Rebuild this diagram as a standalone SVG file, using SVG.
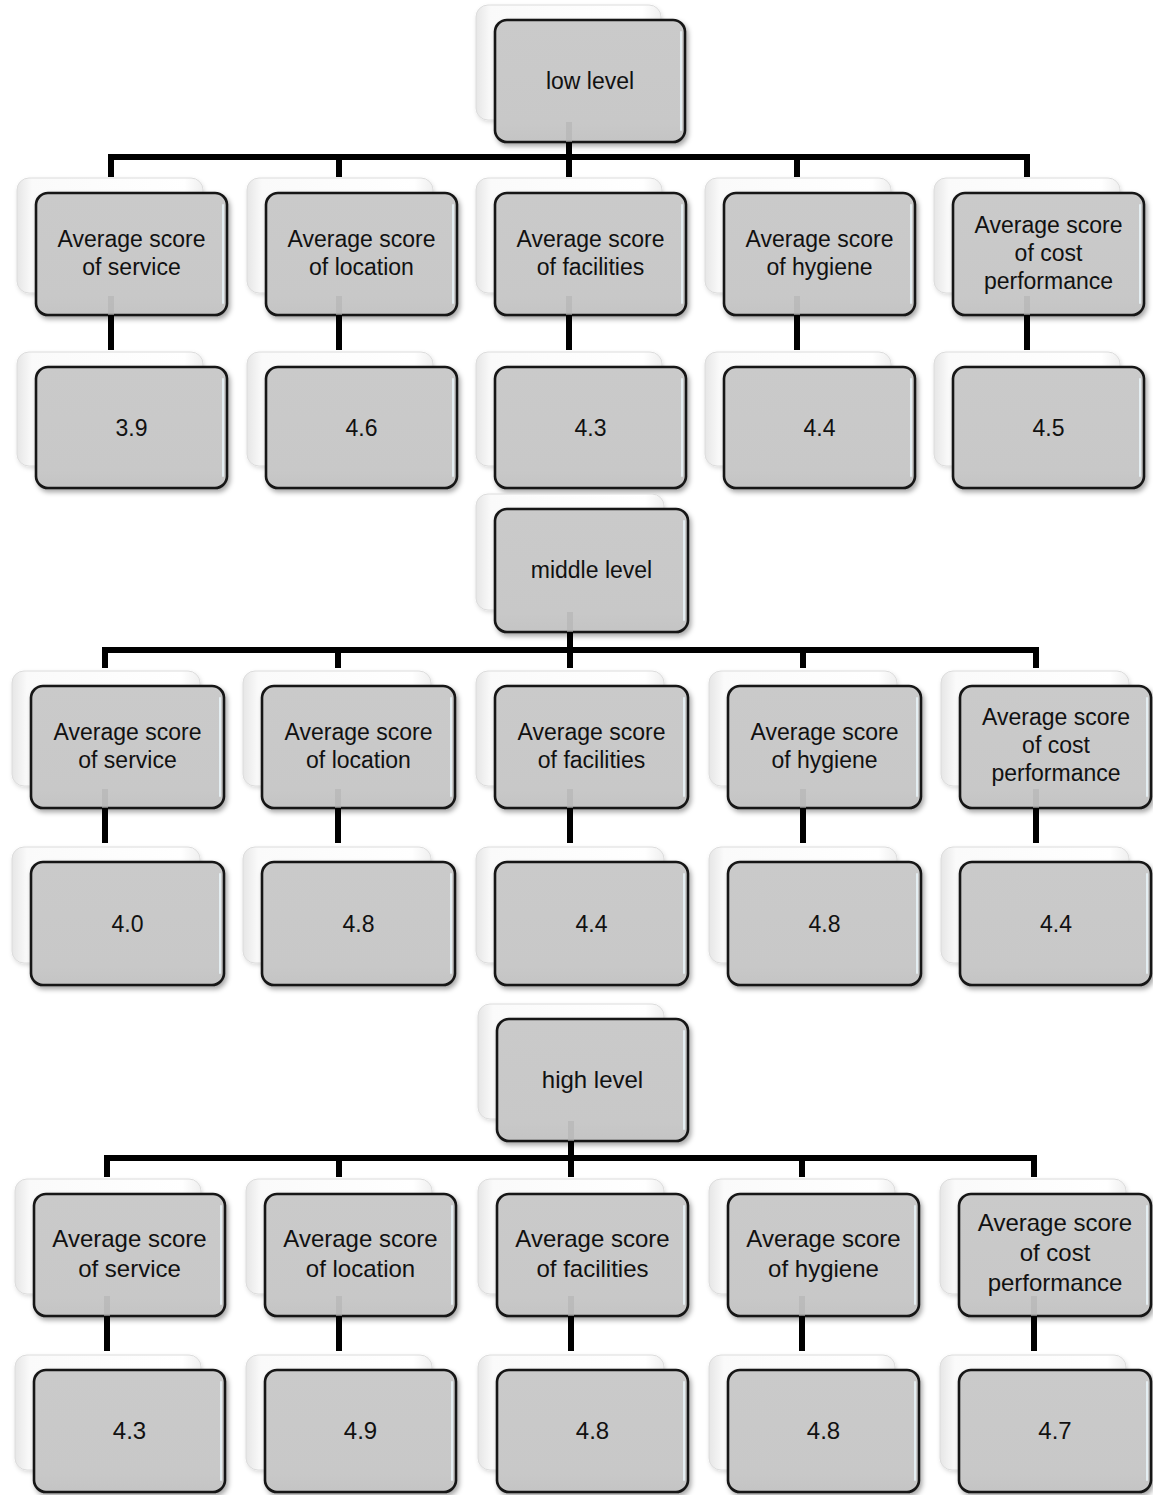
<svg xmlns="http://www.w3.org/2000/svg" width="1153" height="1495" viewBox="0 0 1153 1495">
<defs>
<linearGradient id="backGrad" x1="0" y1="0" x2="1" y2="0">
<stop offset="0" stop-color="#e6e6e6"/>
<stop offset="0.08" stop-color="#fafafa"/>
<stop offset="0.9" stop-color="#ffffff"/>
<stop offset="1" stop-color="#efefef"/>
</linearGradient>
<linearGradient id="frontGrad" x1="0" y1="0" x2="0" y2="1">
<stop offset="0" stop-color="#cacaca"/>
<stop offset="0.85" stop-color="#c8c8c8"/>
<stop offset="1" stop-color="#c4c4c4"/>
</linearGradient>
<filter id="shFront" x="-10%" y="-10%" width="125%" height="130%">
<feDropShadow dx="2" dy="3" stdDeviation="2.5" flood-color="#000" flood-opacity="0.35"/>
</filter>
<filter id="shBack" x="-10%" y="-10%" width="125%" height="130%">
<feDropShadow dx="1" dy="2" stdDeviation="2" flood-color="#000" flood-opacity="0.14"/>
</filter>
</defs>
<style>
.back{fill:url(#backGrad);stroke:#dcdcdc;stroke-width:1;filter:url(#shBack)}
.front{fill:url(#frontGrad);stroke:#141414;stroke-width:2.6;filter:url(#shFront)}
.gloss{fill:none;stroke:#e4eef2;stroke-width:2;stroke-linecap:round}
.t{font-family:"Liberation Sans",Arial,sans-serif;font-size:23px;fill:#111111;text-anchor:middle}
.t3{font-size:24px}
.wire{fill:none;stroke:#000;stroke-width:6;stroke-linejoin:miter;stroke-linecap:butt}
.stub{fill:none;stroke:#b2b2b2;stroke-width:6;opacity:0.6}
</style>
<rect width="1153" height="1495" fill="#ffffff"/>

<!-- ============ Section 1: low level ============ -->
<g id="low-level">
<rect class="back" x="476" y="5" width="185" height="115" rx="12"/>
<rect class="front" x="495" y="20" width="190" height="122" rx="12"/>
<path class="gloss" d="M681 32V130"/>
<text class="t" x="590" y="89">low level</text>
</g>
<g id="low-service">
<rect class="back" x="17" y="178" width="186" height="115" rx="12"/>
<rect class="front" x="36" y="193" width="191" height="122" rx="12"/>
<path class="gloss" d="M223 205V303"/>
<text class="t" x="131.5" y="247">Average score</text>
<text class="t" x="131.5" y="275">of service</text>
</g>
<g id="low-location">
<rect class="back" x="247" y="178" width="186" height="115" rx="12"/>
<rect class="front" x="266" y="193" width="191" height="122" rx="12"/>
<path class="gloss" d="M453 205V303"/>
<text class="t" x="361.5" y="247">Average score</text>
<text class="t" x="361.5" y="275">of location</text>
</g>
<g id="low-facilities">
<rect class="back" x="476" y="178" width="186" height="115" rx="12"/>
<rect class="front" x="495" y="193" width="191" height="122" rx="12"/>
<path class="gloss" d="M682 205V303"/>
<text class="t" x="590.5" y="247">Average score</text>
<text class="t" x="590.5" y="275">of facilities</text>
</g>
<g id="low-hygiene">
<rect class="back" x="705" y="178" width="186" height="115" rx="12"/>
<rect class="front" x="724" y="193" width="191" height="122" rx="12"/>
<path class="gloss" d="M911 205V303"/>
<text class="t" x="819.5" y="247">Average score</text>
<text class="t" x="819.5" y="275">of hygiene</text>
</g>
<g id="low-cost">
<rect class="back" x="934" y="178" width="186" height="115" rx="12"/>
<rect class="front" x="953" y="193" width="191" height="122" rx="12"/>
<path class="gloss" d="M1140 205V303"/>
<text class="t" x="1048.5" y="233">Average score</text>
<text class="t" x="1048.5" y="261">of cost</text>
<text class="t" x="1048.5" y="289">performance</text>
</g>
<g id="low-service-val">
<rect class="back" x="17" y="352" width="186" height="114" rx="12"/>
<rect class="front" x="36" y="367" width="191" height="121" rx="12"/>
<path class="gloss" d="M223 379V476"/>
<text class="t" x="131.5" y="436">3.9</text>
</g>
<g id="low-location-val">
<rect class="back" x="247" y="352" width="186" height="114" rx="12"/>
<rect class="front" x="266" y="367" width="191" height="121" rx="12"/>
<path class="gloss" d="M453 379V476"/>
<text class="t" x="361.5" y="436">4.6</text>
</g>
<g id="low-facilities-val">
<rect class="back" x="476" y="352" width="186" height="114" rx="12"/>
<rect class="front" x="495" y="367" width="191" height="121" rx="12"/>
<path class="gloss" d="M682 379V476"/>
<text class="t" x="590.5" y="436">4.3</text>
</g>
<g id="low-hygiene-val">
<rect class="back" x="705" y="352" width="186" height="114" rx="12"/>
<rect class="front" x="724" y="367" width="191" height="121" rx="12"/>
<path class="gloss" d="M911 379V476"/>
<text class="t" x="819.5" y="436">4.4</text>
</g>
<g id="low-cost-val">
<rect class="back" x="934" y="352" width="186" height="114" rx="12"/>
<rect class="front" x="953" y="367" width="191" height="121" rx="12"/>
<path class="gloss" d="M1140 379V476"/>
<text class="t" x="1048.5" y="436">4.5</text>
</g>

<!-- ============ Section 2: middle level ============ -->
<g id="mid-level">
<rect class="back" x="476" y="494" width="188" height="116" rx="12"/>
<rect class="front" x="495" y="509" width="193" height="123" rx="12"/>
<path class="gloss" d="M684 521V620"/>
<text class="t" x="591.5" y="578">middle level</text>
</g>
<g id="mid-service">
<rect class="back" x="12" y="671" width="188" height="115" rx="12"/>
<rect class="front" x="31" y="686" width="193" height="122" rx="12"/>
<path class="gloss" d="M220 698V796"/>
<text class="t" x="127.5" y="740">Average score</text>
<text class="t" x="127.5" y="768">of service</text>
</g>
<g id="mid-location">
<rect class="back" x="243" y="671" width="188" height="115" rx="12"/>
<rect class="front" x="262" y="686" width="193" height="122" rx="12"/>
<path class="gloss" d="M451 698V796"/>
<text class="t" x="358.5" y="740">Average score</text>
<text class="t" x="358.5" y="768">of location</text>
</g>
<g id="mid-facilities">
<rect class="back" x="476" y="671" width="188" height="115" rx="12"/>
<rect class="front" x="495" y="686" width="193" height="122" rx="12"/>
<path class="gloss" d="M684 698V796"/>
<text class="t" x="591.5" y="740">Average score</text>
<text class="t" x="591.5" y="768">of facilities</text>
</g>
<g id="mid-hygiene">
<rect class="back" x="709" y="671" width="188" height="115" rx="12"/>
<rect class="front" x="728" y="686" width="193" height="122" rx="12"/>
<path class="gloss" d="M917 698V796"/>
<text class="t" x="824.5" y="740">Average score</text>
<text class="t" x="824.5" y="768">of hygiene</text>
</g>
<g id="mid-cost">
<rect class="back" x="941" y="671" width="188" height="115" rx="12"/>
<rect class="front" x="960" y="686" width="191" height="122" rx="12"/>
<path class="gloss" d="M1147 698V796"/>
<text class="t" x="1056" y="725">Average score</text>
<text class="t" x="1056" y="753">of cost</text>
<text class="t" x="1056" y="781">performance</text>
</g>
<g id="mid-service-val">
<rect class="back" x="12" y="847" width="188" height="116" rx="12"/>
<rect class="front" x="31" y="862" width="193" height="123" rx="12"/>
<path class="gloss" d="M220 874V973"/>
<text class="t" x="127.5" y="932">4.0</text>
</g>
<g id="mid-location-val">
<rect class="back" x="243" y="847" width="188" height="116" rx="12"/>
<rect class="front" x="262" y="862" width="193" height="123" rx="12"/>
<path class="gloss" d="M451 874V973"/>
<text class="t" x="358.5" y="932">4.8</text>
</g>
<g id="mid-facilities-val">
<rect class="back" x="476" y="847" width="188" height="116" rx="12"/>
<rect class="front" x="495" y="862" width="193" height="123" rx="12"/>
<path class="gloss" d="M684 874V973"/>
<text class="t" x="591.5" y="932">4.4</text>
</g>
<g id="mid-hygiene-val">
<rect class="back" x="709" y="847" width="188" height="116" rx="12"/>
<rect class="front" x="728" y="862" width="193" height="123" rx="12"/>
<path class="gloss" d="M917 874V973"/>
<text class="t" x="824.5" y="932">4.8</text>
</g>
<g id="mid-cost-val">
<rect class="back" x="941" y="847" width="188" height="116" rx="12"/>
<rect class="front" x="960" y="862" width="191" height="123" rx="12"/>
<path class="gloss" d="M1147 874V973"/>
<text class="t" x="1056" y="932">4.4</text>
</g>

<!-- ============ Section 3: high level ============ -->
<g id="high-level">
<rect class="back" x="478" y="1004" width="186" height="115" rx="12"/>
<rect class="front" x="497" y="1019" width="191" height="122" rx="12"/>
<path class="gloss" d="M684 1031V1129"/>
<text class="t t3" x="592.5" y="1088">high level</text>
</g>
<g id="high-service">
<rect class="back" x="15" y="1179" width="186" height="115" rx="12"/>
<rect class="front" x="34" y="1194" width="191" height="122" rx="12"/>
<path class="gloss" d="M221 1206V1304"/>
<text class="t t3" x="129.5" y="1247">Average score</text>
<text class="t t3" x="129.5" y="1277">of service</text>
</g>
<g id="high-location">
<rect class="back" x="246" y="1179" width="186" height="115" rx="12"/>
<rect class="front" x="265" y="1194" width="191" height="122" rx="12"/>
<path class="gloss" d="M452 1206V1304"/>
<text class="t t3" x="360.5" y="1247">Average score</text>
<text class="t t3" x="360.5" y="1277">of location</text>
</g>
<g id="high-facilities">
<rect class="back" x="478" y="1179" width="186" height="115" rx="12"/>
<rect class="front" x="497" y="1194" width="191" height="122" rx="12"/>
<path class="gloss" d="M684 1206V1304"/>
<text class="t t3" x="592.5" y="1247">Average score</text>
<text class="t t3" x="592.5" y="1277">of facilities</text>
</g>
<g id="high-hygiene">
<rect class="back" x="709" y="1179" width="186" height="115" rx="12"/>
<rect class="front" x="728" y="1194" width="191" height="122" rx="12"/>
<path class="gloss" d="M915 1206V1304"/>
<text class="t t3" x="823.5" y="1247">Average score</text>
<text class="t t3" x="823.5" y="1277">of hygiene</text>
</g>
<g id="high-cost">
<rect class="back" x="940" y="1179" width="186" height="115" rx="12"/>
<rect class="front" x="959" y="1194" width="192" height="122" rx="12"/>
<path class="gloss" d="M1147 1206V1304"/>
<text class="t t3" x="1055" y="1231">Average score</text>
<text class="t t3" x="1055" y="1261">of cost</text>
<text class="t t3" x="1055" y="1291">performance</text>
</g>
<g id="high-service-val">
<rect class="back" x="15" y="1355" width="186" height="115" rx="12"/>
<rect class="front" x="34" y="1370" width="191" height="122" rx="12"/>
<path class="gloss" d="M221 1382V1480"/>
<text class="t t3" x="129.5" y="1439">4.3</text>
</g>
<g id="high-location-val">
<rect class="back" x="246" y="1355" width="186" height="115" rx="12"/>
<rect class="front" x="265" y="1370" width="191" height="122" rx="12"/>
<path class="gloss" d="M452 1382V1480"/>
<text class="t t3" x="360.5" y="1439">4.9</text>
</g>
<g id="high-facilities-val">
<rect class="back" x="478" y="1355" width="186" height="115" rx="12"/>
<rect class="front" x="497" y="1370" width="191" height="122" rx="12"/>
<path class="gloss" d="M684 1382V1480"/>
<text class="t t3" x="592.5" y="1439">4.8</text>
</g>
<g id="high-hygiene-val">
<rect class="back" x="709" y="1355" width="186" height="115" rx="12"/>
<rect class="front" x="728" y="1370" width="191" height="122" rx="12"/>
<path class="gloss" d="M915 1382V1480"/>
<text class="t t3" x="823.5" y="1439">4.8</text>
</g>
<g id="high-cost-val">
<rect class="back" x="940" y="1355" width="186" height="115" rx="12"/>
<rect class="front" x="959" y="1370" width="192" height="122" rx="12"/>
<path class="gloss" d="M1147 1382V1480"/>
<text class="t t3" x="1055" y="1439">4.7</text>
</g>

<!-- ============ Connectors ============ -->
<g id="connectors">
<!-- section 1 -->
<path class="stub" d="M569 122V142 M111 296V315 M339 296V315 M569 296V315 M797 296V315 M1027 296V315"/>
<path class="wire" d="M111 177V157H1027V177 M339 157V177 M569 142V177 M797 157V177"/>
<path class="wire" d="M111 315V350 M339 315V350 M569 315V350 M797 315V350 M1027 315V350"/>
<!-- section 2 -->
<path class="stub" d="M570 612V632 M105 789V808 M338 789V808 M570 789V808 M803 789V808 M1036 789V808"/>
<path class="wire" d="M105 668V650H1036V668 M338 650V668 M570 632V668 M803 650V668"/>
<path class="wire" d="M105 808V843 M338 808V843 M570 808V843 M803 808V843 M1036 808V843"/>
<!-- section 3 -->
<path class="stub" d="M571 1121V1141 M107 1296V1316 M339 1296V1316 M571 1296V1316 M802 1296V1316 M1034 1296V1316"/>
<path class="wire" d="M107 1177V1158H1034V1177 M339 1158V1177 M571 1141V1177 M802 1158V1177"/>
<path class="wire" d="M107 1316V1351 M339 1316V1351 M571 1316V1351 M802 1316V1351 M1034 1316V1351"/>
</g>
</svg>
